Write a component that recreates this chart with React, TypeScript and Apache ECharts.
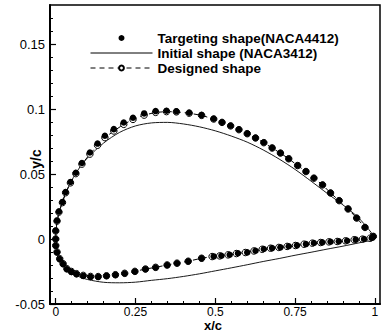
import React, { useEffect, useRef } from "react";
import * as echarts from "echarts";

// ---- data ----
const xMajorTicks = [0, 0.25, 0.5, 0.75, 1];
const xMinorTicks = [0.05, 0.1, 0.15, 0.2, 0.3, 0.35, 0.4, 0.45, 0.55, 0.6, 0.65, 0.7, 0.8, 0.85, 0.9, 0.95];
const yMajorTicks = [-0.05, 0, 0.05, 0.1, 0.15];
const yMinorTicks = [-0.04, -0.03, -0.02, -0.01, 0.01, 0.02, 0.03, 0.04, 0.06, 0.07, 0.08, 0.09, 0.11, 0.12, 0.13, 0.14, 0.16, 0.17];

const targetUpper: [number, number][] = [
  [0, 0], [0.0, 0.0064], [0.004, 0.0141], [0.01, 0.0211], [0.021, 0.0284], [0.031, 0.0361],
  [0.046, 0.0438], [0.063, 0.051], [0.082, 0.0585], [0.107, 0.0665], [0.131, 0.0734],
  [0.154, 0.0794], [0.182, 0.0845], [0.213, 0.0896], [0.242, 0.0933], [0.277, 0.0966],
  [0.313, 0.0984], [0.347, 0.0987], [0.378, 0.0982], [0.418, 0.0971], [0.457, 0.0953],
  [0.495, 0.0925], [0.521, 0.0898], [0.548, 0.0871], [0.574, 0.0842], [0.6, 0.0811],
  [0.626, 0.0778], [0.652, 0.0742], [0.678, 0.0701], [0.704, 0.0662], [0.73, 0.0618],
  [0.758, 0.0566], [0.784, 0.052], [0.809, 0.0469], [0.836, 0.0417], [0.861, 0.0355],
  [0.888, 0.0296], [0.916, 0.0232], [0.943, 0.0162], [0.969, 0.009], [0.995, 0.002],
];
const targetLower: [number, number][] = [
  [0.0, -0.0052], [0.004, -0.0103], [0.0125, -0.0155], [0.023, -0.0193], [0.035, -0.0232],
  [0.049, -0.0253], [0.065, -0.027], [0.086, -0.0284], [0.109, -0.0291], [0.133, -0.0291],
  [0.159, -0.0284], [0.187, -0.0276], [0.216, -0.0265], [0.248, -0.025], [0.281, -0.0232],
  [0.313, -0.0219], [0.349, -0.0201], [0.38, -0.0187], [0.415, -0.0172], [0.457, -0.0149],
  [0.495, -0.0134], [0.519, -0.0129], [0.545, -0.0121], [0.571, -0.011], [0.6, -0.0103],
  [0.626, -0.009], [0.652, -0.0077], [0.678, -0.007], [0.704, -0.0064], [0.73, -0.0056],
  [0.756, -0.0049], [0.784, -0.0039], [0.809, -0.0031], [0.835, -0.0026], [0.861, -0.0021],
  [0.887, -0.0018], [0.913, -0.0013], [0.94, -0.0005], [0.966, 0.0], [0.99, 0.0008],
];

const designedUpper: [number, number][] = [
  [0, 0], [0.0, 0.0062], [0.004, 0.0138], [0.01, 0.0207], [0.021, 0.028], [0.031, 0.0356],
  [0.046, 0.0432], [0.063, 0.0503], [0.082, 0.0576], [0.107, 0.0653], [0.131, 0.0721],
  [0.154, 0.078], [0.182, 0.0831], [0.213, 0.0882], [0.242, 0.092], [0.277, 0.0953],
  [0.313, 0.0974], [0.347, 0.098], [0.378, 0.0978], [0.418, 0.0968], [0.457, 0.0951],
  [0.495, 0.0923], [0.521, 0.0897], [0.548, 0.087], [0.574, 0.0841], [0.6, 0.081],
  [0.626, 0.0777], [0.652, 0.0741], [0.678, 0.07], [0.704, 0.0661], [0.73, 0.0617],
  [0.758, 0.0565], [0.784, 0.0519], [0.809, 0.0468], [0.836, 0.0416], [0.861, 0.0354],
  [0.888, 0.0295], [0.916, 0.0231], [0.943, 0.0161], [0.969, 0.0089], [0.995, 0.002],
];
const designedLower: [number, number][] = [
  [0.0, -0.005], [0.004, -0.01], [0.0125, -0.0152], [0.023, -0.019], [0.035, -0.0229],
  [0.049, -0.025], [0.065, -0.0267], [0.086, -0.028], [0.109, -0.0288], [0.133, -0.0289],
  [0.159, -0.0283], [0.187, -0.0275], [0.216, -0.0264], [0.248, -0.0249], [0.281, -0.0231],
  [0.313, -0.0218], [0.349, -0.02], [0.38, -0.0186], [0.415, -0.0171], [0.457, -0.0148],
  [0.49, -0.0135], [0.514, -0.013], [0.54, -0.0122], [0.566, -0.0112], [0.594, -0.0104],
  [0.621, -0.0092], [0.647, -0.0079], [0.673, -0.0071], [0.699, -0.0065], [0.725, -0.0057],
  [0.751, -0.005], [0.778, -0.004], [0.804, -0.0032], [0.83, -0.0027], [0.856, -0.0022],
  [0.882, -0.0019], [0.908, -0.0014], [0.935, -0.0006], [0.961, -0.0001], [0.985, 0.0006],
];

const initialUpper: [number, number][] = [
  [1.0, 0.0015], [0.95, 0.016], [0.9, 0.0262], [0.85, 0.0352], [0.8, 0.0445], [0.75, 0.0535],
  [0.7, 0.0615], [0.65, 0.0685], [0.6, 0.0745], [0.55, 0.0792], [0.5, 0.0832], [0.45, 0.0863],
  [0.4, 0.0885], [0.35, 0.0897], [0.3, 0.0893], [0.25, 0.087], [0.2, 0.082], [0.15, 0.0738],
  [0.1, 0.0625], [0.075, 0.055], [0.05, 0.045], [0.025, 0.0315], [0.0125, 0.0222],
  [0.005, 0.014], [0.001, 0.0065], [0, 0],
];
const initialLower: [number, number][] = [
  [0.001, -0.0055], [0.005, -0.0105], [0.0125, -0.0152], [0.025, -0.02], [0.05, -0.0258],
  [0.075, -0.0292], [0.1, -0.0312], [0.15, -0.0333], [0.2, -0.0337], [0.25, -0.0332],
  [0.3, -0.0318], [0.35, -0.0305], [0.4, -0.0288], [0.45, -0.0268], [0.5, -0.0245],
  [0.55, -0.0222], [0.6, -0.0198], [0.65, -0.0173], [0.7, -0.015], [0.75, -0.0125],
  [0.8, -0.0102], [0.85, -0.0078], [0.9, -0.0055], [0.95, -0.003], [1.0, -0.0005],
];

const seriesNames = ["Targeting shape(NACA4412)", "Initial shape (NACA3412)", "Designed shape"];

const FONT = "'Liberation Sans', Arial, sans-serif";

export default function App() {
  const ref = useRef<HTMLDivElement>(null);
  useEffect(() => {
    if (!ref.current) return;
    const chart = echarts.init(ref.current, undefined, { renderer: "svg" });
    const xBase = {
      type: "value" as const,
      min: -0.018,
      max: 1.016,
      position: "bottom" as const,
      splitLine: { show: false },
    };
    const yBase = {
      type: "value" as const,
      min: -0.05,
      max: 0.18,
      position: "left" as const,
      splitLine: { show: false },
    };
    chart.setOption({
      animation: false,
      backgroundColor: "#fff",
      grid: {
        left: 50,
        right: 6,
        top: 5,
        bottom: 28,
        show: true,
        borderColor: "#000",
        borderWidth: 1.5,
        backgroundColor: "transparent",
      },
      legend: {
        data: [
          { name: seriesNames[0] },
          { name: seriesNames[1], itemStyle: { opacity: 0 } },
          { name: seriesNames[2] },
        ],
        orient: "vertical",
        left: 85,
        top: 26,
        itemWidth: 62,
        itemHeight: 6,
        itemGap: 1,
        lineStyle: { width: 1 },
        textStyle: { fontFamily: FONT, fontWeight: "bold", fontSize: 13.5, color: "#000" },
        inactiveColor: "#000",
        selectedMode: false,
      },
      xAxis: [
        {
          ...xBase,
          axisLine: { show: true, onZero: false, lineStyle: { color: "#000", width: 2 } },
          axisTick: { show: true, inside: true, length: 6, customValues: xMajorTicks, lineStyle: { color: "#000", width: 1.2 } },
          axisLabel: {
            show: true,
            customValues: xMajorTicks,
            margin: 2,
            color: "#000",
            fontFamily: FONT,
            fontSize: 12,
            formatter: (v: number) => String(v),
          },
        },
        {
          ...xBase,
          axisLine: { show: false, onZero: false },
          axisTick: { show: true, inside: true, length: 3, customValues: xMinorTicks, lineStyle: { color: "#000", width: 1 } },
          axisLabel: { show: false },
        },
      ],
      yAxis: [
        {
          ...yBase,
          axisLine: { show: true, onZero: false, lineStyle: { color: "#000", width: 2 } },
          axisTick: { show: true, inside: true, length: 6, customValues: yMajorTicks, lineStyle: { color: "#000", width: 1.2 } },
          axisLabel: {
            show: true,
            customValues: yMajorTicks,
            margin: 5,
            color: "#000",
            fontFamily: FONT,
            fontSize: 13,
            formatter: (v: number) => String(v),
          },
        },
        {
          ...yBase,
          axisLine: { show: false, onZero: false },
          axisTick: { show: true, inside: true, length: 3, customValues: yMinorTicks, lineStyle: { color: "#000", width: 1 } },
          axisLabel: { show: false },
        },
      ],
      graphic: [
        {
          type: "text",
          x: 213,
          y: 325,
          style: { text: "x/c", font: `bold 13px ${FONT}`, fill: "#000", align: "center", verticalAlign: "middle" },
        },
        {
          type: "text",
          x: 36,
          y: 159,
          rotation: Math.PI / 2,
          style: { text: "y/c", font: `bold 14px ${FONT}`, fill: "#000", align: "center", verticalAlign: "middle" },
        },
      ],
      series: [
        {
          name: seriesNames[1],
          type: "line",
          data: [...initialUpper, ...initialLower],
          showSymbol: false,
          symbol: "none",
          smooth: 0.3,
          lineStyle: { color: "#000", width: 0.9 },
          itemStyle: { color: "#000" },
          z: 2,
        },
        {
          name: seriesNames[2],
          type: "line",
          data: [...[...designedUpper].reverse(), ...designedLower],
          symbol: "circle",
          symbolSize: 6.5,
          lineStyle: { color: "#000", width: 1, type: [5, 4] },
          itemStyle: { color: "#fff", borderColor: "#000", borderWidth: 1 },
          z: 3,
        },
        {
          name: seriesNames[0],
          type: "scatter",
          data: [...targetUpper, ...targetLower],
          symbol: "circle",
          symbolSize: 6.5,
          itemStyle: { color: "#000", opacity: 1 },
          z: 4,
        },
      ],
    });
    return () => chart.dispose();
  }, []);
  return <div ref={ref} style={{ position: "fixed", left: 0, top: 0, width: 386, height: 332 }} />;
}
